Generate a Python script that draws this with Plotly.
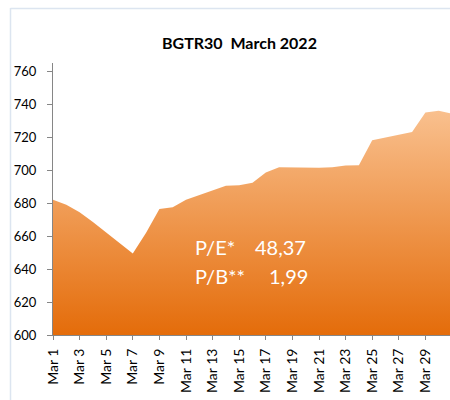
import plotly.graph_objects as go

# ---- data ----
dates = ["2022-03-01", "2022-03-02", "2022-03-03", "2022-03-04", "2022-03-07",
         "2022-03-08", "2022-03-09", "2022-03-10", "2022-03-11", "2022-03-14",
         "2022-03-15", "2022-03-16", "2022-03-17", "2022-03-18", "2022-03-21",
         "2022-03-22", "2022-03-23", "2022-03-24", "2022-03-25", "2022-03-28",
         "2022-03-29", "2022-03-30", "2022-03-31"]
values = [682, 679, 674.5, 668.5, 649.5,
          662, 676.5, 677.5, 682, 690.5,
          690.8, 692.3, 698.6, 701.8, 701.4,
          701.8, 702.8, 703, 718.2, 723.2,
          735, 736, 734.3]
tick_dates = ["2022-03-%02d" % d for d in range(1, 32, 2)]
tick_labels = ["Mar %d" % d for d in range(1, 32, 2)]
y_ticks = list(range(600, 761, 20))
title_text = "BGTR30  March 2022"
pe_label, pe_value = "P/E*", "48,37"
pb_label, pb_value = "P/B**", "1,99"

FONT = "Lato"
W, H = 450, 400
L, T, B = 53, 63, 65
plot_w = W - L
plot_h = H - T - B


def px_x(x):
    return (x - L) / plot_w


def px_y(y):
    return (H - B - y) / plot_h


fig = go.Figure()
fig.add_trace(go.Scatter(
    x=dates, y=values, mode="lines",
    line=dict(width=0, color="#f0a060"),
    fill="tozeroy",
    fillgradient=dict(type="vertical", start=600, stop=736,
                      colorscale=[[0, "#e46c0a"], [1, "#f9c08e"]]),
    hoverinfo="skip", showlegend=False,
))

axis_col = "#868686"
fig.update_layout(
    width=W, height=H,
    margin=dict(l=L, r=0, t=T, b=B),
    paper_bgcolor="white", plot_bgcolor="white",
    font=dict(family=FONT, size=13, color="black"),
    title=dict(text="<b>%s</b>" % title_text, x=239.5 / W, xref="container",
               xanchor="center", y=1 - 43 / H, yref="container", yanchor="middle",
               font=dict(family=FONT, size=16, color="black")),
    xaxis=dict(type="date", range=["2022-03-01", "2022-03-30 20:24"],
               tickvals=tick_dates, ticktext=tick_labels, tickangle=-90,
               ticks="outside", ticklen=4, tickcolor=axis_col,
               showline=True, linecolor=axis_col, linewidth=1,
               showgrid=False, zeroline=False, ticklabelstandoff=3,
               tickfont=dict(family=FONT, size=14, color="black")),
    yaxis=dict(range=[600, 765], tickvals=y_ticks,
               ticks="outside", ticklen=5, tickcolor=axis_col,
               showline=True, linecolor=axis_col, linewidth=1,
               showgrid=False, zeroline=False, ticklabelstandoff=8,
               tickfont=dict(family=FONT, size=13, color="black")),
)

# chart border (light blue)
border = "#dce5f0"
fig.add_shape(type="line", xref="paper", yref="paper",
              x0=px_x(10.5), x1=px_x(10.5), y0=px_y(8), y1=px_y(400),
              line=dict(color=border, width=1.5))
fig.add_shape(type="line", xref="paper", yref="paper",
              x0=px_x(10.5), x1=px_x(450), y0=px_y(8.5), y1=px_y(8.5),
              line=dict(color=border, width=1.5))

txt_font = dict(family=FONT, size=20, color="white")
for text, x, y in [(pe_label, 193, 246.7), (pe_value, 253, 246.7),
                   (pb_label, 193, 276), (pb_value, 267, 276)]:
    fig.add_annotation(text=text, xref="paper", yref="paper",
                       x=px_x(x), y=px_y(y), xanchor="left", yanchor="middle",
                       showarrow=False, font=txt_font)

fig.write_html("out.html",
               config={"displayModeBar": False, "staticPlot": True},
               post_script="document.body.style.margin='0';"
                           "document.body.style.overflow='hidden';")
